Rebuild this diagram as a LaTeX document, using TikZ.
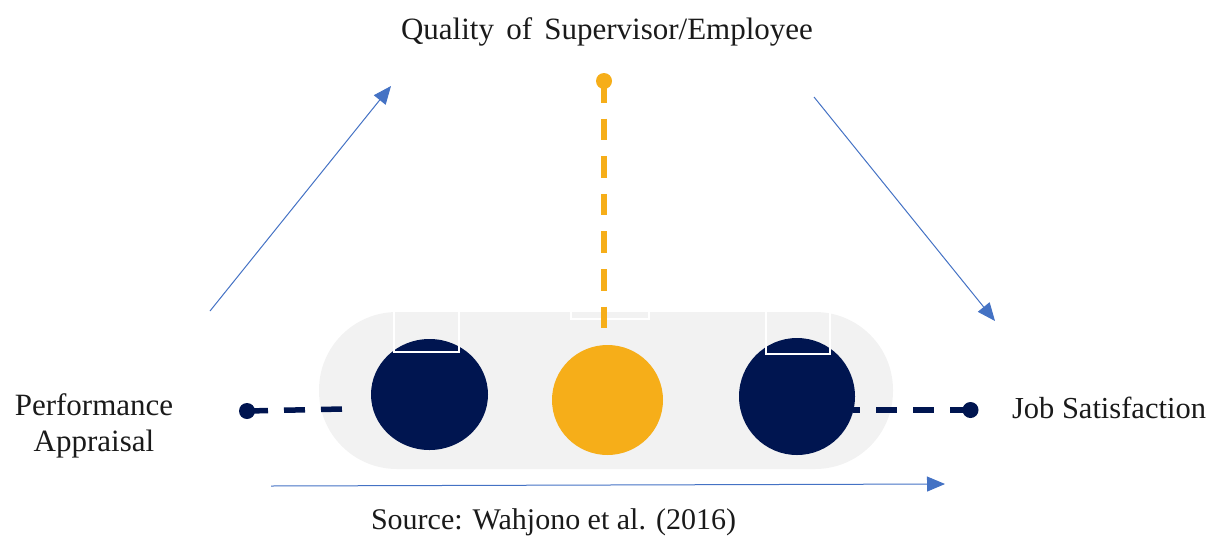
\documentclass[tikz,border=0pt]{standalone}
\usepackage{fontspec}
\setmainfont{Liberation Serif}
\usetikzlibrary{arrows.meta}
\definecolor{navy}{HTML}{001550}
\definecolor{amber}{HTML}{F6AE19}
\definecolor{pillgrey}{HTML}{F2F2F2}
\definecolor{linkblue}{HTML}{4472C4}
\definecolor{inkblack}{HTML}{1A1A1A}
\tikzset{
  x=1pt,y=-1pt,
  label text/.style={text=inkblack,inner sep=0pt,align=center},
  end dot/.style={circle,inner sep=0pt,minimum size=16pt},
  dash link/.style={line width=5.5pt,dash pattern=on 21pt off 16pt},
  thin arrow/.style={draw=linkblue,line width=1pt,-{Triangle[length=18pt,width=15pt,fill=linkblue]}},
  notch/.style={draw=white,line width=2.6pt},
}
\begin{document}
\begin{tikzpicture}
\useasboundingbox (0,0) rectangle (1210,536);
% grey pill
\fill[pillgrey,rounded corners=78pt] (319,312) rectangle (893,469);
% discs
\fill[navy] (429.5,394.5) ellipse [x radius=58.5,y radius=55.5];
\fill[amber] (607.5,400) ellipse [x radius=55.5,y radius=55];
\fill[navy] (797,396.5) ellipse [x radius=58,y radius=58.5];
\coordinate (discL) at (343,409);
\coordinate (discR) at (853,410);
\coordinate (discM) at (604,328);
% white notches
\draw[notch] (394,310) -- (394,352) -- (459,352) -- (459,310);
\draw[notch] (571,310) -- (571,319) -- (649,319) -- (649,310);
\draw[notch] (766,310) -- (766,354) -- (830,354) -- (830,310);
% dots
\node[end dot,fill=navy] (dotL) at (247,411) {};
\node[end dot,fill=navy] (dotR) at (970.5,410) {};
\node[end dot,fill=amber] (dotT) at (604,81) {};
% dashed links
\draw[navy,dash link] (dotL.center) -- (discL);
\draw[navy,dash link] (dotR.center) -- (discR);
\draw[amber,dash link,line width=6pt,dash pattern=on 21.6pt off 16pt] (dotT.center) -- (discM);
% labels
\node[label text,font=\fontsize{31}{37}\selectfont] (quality) at (607,32) {Quality\hspace{4.5pt} of\hspace{4.5pt} Supervisor/Employee};
\node[label text,font=\fontsize{31}{36}\selectfont] (perf) at (94,426) {Performance\\Appraisal};
\node[label text,font=\fontsize{30.5}{36}\selectfont] (job) at (1109,408) {Job Satisfaction};
\node[label text,font=\fontsize{30}{36}\selectfont] (source) at (553.5,522) {Source: Wahjono et al. (2016)};
% thin arrows
\coordinate (a1) at (210,311); \coordinate (a2) at (391,86);
\coordinate (b1) at (814,97); \coordinate (b2) at (995,321);
\coordinate (c1) at (271,486); \coordinate (c2) at (945,484);
\draw[thin arrow] (a1) -- (a2);
\draw[thin arrow] (b1) -- (b2);
\draw[thin arrow] (c1) -- (c2);
\end{tikzpicture}
\end{document}
